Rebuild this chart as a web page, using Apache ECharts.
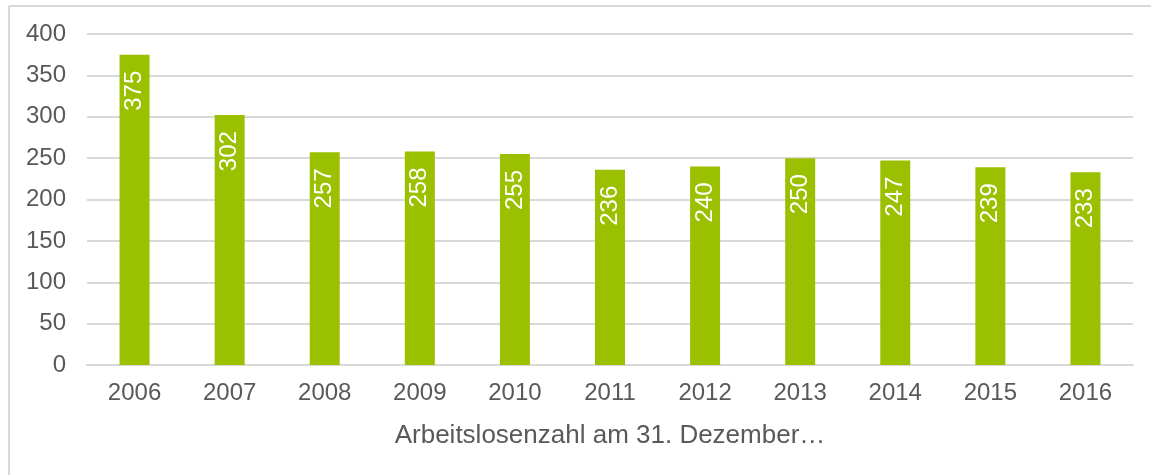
<!DOCTYPE html>
<html>
<head>
<meta charset="utf-8">
<script src="https://cdn.jsdelivr.net/npm/echarts@6/dist/echarts.min.js"></script>
<style>
html,body{margin:0;padding:0;background:#fff;}
#c{width:1151px;height:475px;}
</style>
</head>
<body>
<div id="c"></div>
<script>
const years = ['2006','2007','2008','2009','2010','2011','2012','2013','2014','2015','2016'];
const values = [375, 302, 257, 258, 255, 236, 240, 250, 247, 239, 233];
const yTicks = [0, 50, 100, 150, 200, 250, 300, 350, 400];
const axisName = 'Arbeitslosenzahl am 31. Dezember…';

const chart = echarts.init(document.getElementById('c'), null, {renderer:'canvas'});
const font = 'Liberation Sans, Arial, sans-serif';
chart.setOption({
  animation: false,
  backgroundColor: '#fff',
  graphic: [
    {type:'line', shape:{x1:9, y1:6, x2:1151, y2:6}, style:{stroke:'#d9d9d9', lineWidth:2}},
    {type:'line', shape:{x1:9, y1:6, x2:9, y2:475}, style:{stroke:'#d9d9d9', lineWidth:2}}
  ],
  grid: {left: 87, right: 18, top: 34, bottom: 110, containLabel: false},
  xAxis: {
    type: 'category',
    data: years,
    name: axisName,
    nameLocation: 'middle',
    nameGap: 58,
    nameTextStyle: {color:'#595959', fontSize:26, fontFamily:font},
    axisLine: {lineStyle:{color:'#d9d9d9', width:2}},
    axisTick: {show:false},
    axisLabel: {color:'#595959', fontSize:24, fontFamily:font, margin:16}
  },
  yAxis: {
    type: 'value',
    min: yTicks[0],
    max: yTicks[yTicks.length-1],
    interval: 50,
    axisLine: {show:false},
    axisTick: {show:false},
    axisLabel: {color:'#595959', fontSize:24, fontFamily:font, margin:21},
    splitLine: {lineStyle:{color:'#d9d9d9', width:2}}
  },
  series: [{
    type: 'bar',
    data: values,
    barWidth: 30,
    itemStyle: {color:'#9bc000'},
    label: {
      show: true,
      position: 'insideTop',
      distance: 16,
      rotate: 90,
      align: 'right',
      verticalAlign: 'middle',
      color: '#fff',
      fontSize: 24,
      fontFamily: font
    }
  }]
});
</script>
</body>
</html>
